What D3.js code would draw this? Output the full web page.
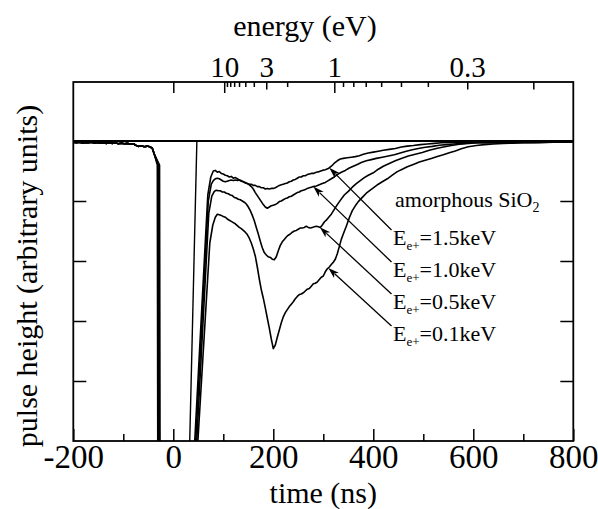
<!DOCTYPE html>
<html><head><meta charset="utf-8">
<script src="https://cdn.jsdelivr.net/npm/d3@7"></script>
<style>
html,body{margin:0;padding:0;background:#fff;}
svg{display:block;}
text{font-family:"Liberation Serif","Times New Roman",serif;fill:#000;}
</style>
</head><body>
<svg id="chart" width="598" height="509"></svg>
<script>
// ---------------- data ----------------
const timeTicks = [-200, 0, 200, 400, 600, 800];
const timeMinorTicks = [-100, 100, 300, 500, 700];
const pulseTicks = [-1, -2, -3, -4];
const energyLabels = [10, 3, 1, 0.3];
const energyMajor = [Infinity, 10, 1];
const energyMid = [3, 0.3, 0.2];
const energyMinor = [9, 8, 7, 6, 5, 4, 2, 0.9, 0.8, 0.7, 0.6, 0.5, 0.4];
const tofConst = 322; // time (ns) = tofConst / sqrt(E in eV)

const beamEnergies = ["1.5", "1.0", "0.5", "0.1"];

// common pre-trigger baseline [time ns, pulse height]
const preTrigger = [[-200,-0.02],[-194,-0.03],[-188,-0.02],[-182,-0.035],[-176,-0.025],[-170,-0.03],[-164,-0.02],[-158,-0.035],[-152,-0.025],[-146,-0.035],[-140,-0.03],[-134,-0.04],[-128,-0.03],[-122,-0.04],[-116,-0.03],[-110,-0.045],[-104,-0.035],[-98,-0.045],[-92,-0.04],[-86,-0.05],[-80,-0.045],[-75,-0.07],[-70,-0.09],[-64,-0.08],[-58,-0.095],[-52,-0.085],[-46,-0.1],[-42,-0.12],[-38,-0.22]];

const curve15 = [[-32,-0.4],[-31,-5.4],[41,-5.3],[69,-0.9],[75,-0.6],[80,-0.5],[84,-0.49],[88,-0.52],[92,-0.51],[96,-0.54],[100,-0.55],[104,-0.57],[108,-0.58],[112,-0.6],[116,-0.59],[120,-0.62],[124,-0.61],[128,-0.63],[132,-0.65],[136,-0.66],[140,-0.68],[144,-0.69],[148,-0.71],[152,-0.72],[156,-0.72],[160,-0.74],[164,-0.74],[168,-0.76],[172,-0.76],[176,-0.78],[180,-0.78],[184,-0.8],[188,-0.79],[192,-0.8],[196,-0.79],[200,-0.79],[204,-0.78],[208,-0.76],[212,-0.74],[216,-0.73],[220,-0.72],[224,-0.71],[228,-0.7],[232,-0.68],[236,-0.67],[240,-0.65],[244,-0.64],[248,-0.62],[252,-0.6],[256,-0.6],[260,-0.58],[264,-0.58],[268,-0.56],[272,-0.55],[276,-0.54],[280,-0.54],[286,-0.52],[292,-0.51],[298,-0.49],[304,-0.48],[310,-0.46],[316,-0.42],[322,-0.37],[328,-0.33],[334,-0.3],[340,-0.29],[348,-0.28],[356,-0.27],[364,-0.26],[372,-0.245],[380,-0.22],[390,-0.2],[400,-0.185],[410,-0.17],[420,-0.155],[432,-0.14],[444,-0.125],[456,-0.1],[468,-0.085],[480,-0.075],[494,-0.06],[508,-0.05],[522,-0.04],[536,-0.03],[550,-0.025],[570,-0.02],[590,-0.015],[620,-0.02],[650,-0.01],[680,-0.015],[710,-0.01],[740,-0.015],[770,-0.01],[800,-0.012]];

const curve10 = [[-30.5,-0.4],[-29.5,-5.4],[43,-5.3],[70,-1.0],[76,-0.72],[80,-0.66],[84,-0.63],[88,-0.62],[92,-0.63],[96,-0.65],[100,-0.67],[104,-0.68],[108,-0.67],[112,-0.66],[116,-0.65],[120,-0.66],[124,-0.65],[128,-0.66],[132,-0.65],[136,-0.67],[140,-0.68],[144,-0.7],[148,-0.71],[152,-0.73],[156,-0.76],[160,-0.8],[164,-0.86],[168,-0.91],[172,-0.96],[176,-1.01],[180,-1.06],[184,-1.1],[188,-1.12],[192,-1.1],[196,-1.08],[200,-1.07],[204,-1.06],[208,-1.04],[212,-1.01],[216,-1.0],[220,-0.98],[224,-0.96],[228,-0.95],[232,-0.93],[236,-0.92],[240,-0.9],[244,-0.88],[248,-0.86],[252,-0.85],[256,-0.83],[260,-0.82],[264,-0.81],[268,-0.79],[272,-0.78],[276,-0.77],[280,-0.76],[286,-0.75],[292,-0.73],[298,-0.71],[304,-0.69],[310,-0.66],[316,-0.63],[322,-0.6],[328,-0.56],[336,-0.52],[344,-0.49],[352,-0.45],[360,-0.42],[368,-0.39],[376,-0.36],[386,-0.33],[396,-0.31],[406,-0.29],[418,-0.27],[430,-0.25],[442,-0.23],[454,-0.2],[466,-0.17],[478,-0.145],[490,-0.125],[504,-0.105],[518,-0.09],[532,-0.07],[546,-0.06],[560,-0.05],[580,-0.04],[600,-0.03],[630,-0.025],[660,-0.03],[690,-0.02],[720,-0.025],[750,-0.018],[780,-0.022],[800,-0.018]];

const curve05 = [[-29,-0.4],[-28,-5.4],[45,-5.3],[71,-1.2],[77,-0.92],[82,-0.84],[86,-0.82],[90,-0.83],[94,-0.83],[98,-0.85],[102,-0.85],[106,-0.87],[110,-0.88],[114,-0.9],[118,-0.91],[122,-0.94],[126,-0.95],[130,-0.97],[134,-0.98],[138,-1.0],[142,-1.02],[146,-1.05],[150,-1.1],[154,-1.16],[158,-1.24],[162,-1.33],[166,-1.44],[170,-1.55],[174,-1.67],[178,-1.78],[182,-1.86],[186,-1.9],[190,-1.93],[194,-1.94],[198,-1.97],[202,-1.98],[206,-1.93],[210,-1.83],[214,-1.74],[218,-1.68],[222,-1.64],[226,-1.6],[230,-1.57],[234,-1.55],[238,-1.52],[242,-1.5],[246,-1.49],[250,-1.47],[254,-1.45],[258,-1.45],[262,-1.44],[266,-1.42],[270,-1.44],[274,-1.45],[278,-1.44],[282,-1.43],[286,-1.42],[290,-1.43],[294,-1.44],[298,-1.4],[302,-1.35],[306,-1.32],[310,-1.28],[316,-1.22],[322,-1.14],[328,-1.06],[334,-0.99],[342,-0.9],[350,-0.84],[358,-0.77],[366,-0.71],[374,-0.66],[382,-0.61],[390,-0.57],[400,-0.53],[410,-0.47],[420,-0.42],[432,-0.375],[444,-0.33],[456,-0.29],[470,-0.25],[484,-0.22],[498,-0.19],[512,-0.155],[526,-0.125],[540,-0.1],[556,-0.075],[572,-0.055],[590,-0.04],[610,-0.03],[640,-0.03],[670,-0.02],[700,-0.025],[730,-0.02],[760,-0.022],[800,-0.015]];

const curve01 = [[-27.5,-0.4],[-26.5,-5.4],[47,-5.3],[73,-1.7],[79,-1.4],[84,-1.27],[88,-1.22],[92,-1.23],[96,-1.24],[100,-1.26],[104,-1.27],[108,-1.3],[112,-1.32],[116,-1.34],[120,-1.36],[124,-1.38],[128,-1.41],[132,-1.44],[136,-1.46],[140,-1.49],[144,-1.52],[148,-1.56],[152,-1.62],[156,-1.7],[160,-1.8],[164,-1.92],[168,-2.1],[172,-2.3],[176,-2.48],[180,-2.62],[184,-2.78],[188,-2.95],[192,-3.12],[196,-3.3],[200,-3.46],[204,-3.4],[208,-3.27],[212,-3.15],[216,-3.03],[220,-2.93],[224,-2.86],[228,-2.81],[232,-2.76],[236,-2.72],[240,-2.68],[244,-2.63],[248,-2.59],[252,-2.56],[256,-2.55],[260,-2.53],[264,-2.5],[268,-2.47],[272,-2.46],[276,-2.42],[280,-2.38],[284,-2.37],[288,-2.35],[292,-2.31],[296,-2.27],[300,-2.25],[304,-2.18],[308,-2.13],[312,-2.1],[316,-2.06],[320,-2.02],[324,-1.97],[328,-1.88],[332,-1.76],[336,-1.64],[340,-1.55],[346,-1.42],[352,-1.28],[358,-1.16],[364,-1.08],[370,-1.01],[378,-0.94],[386,-0.87],[394,-0.82],[402,-0.77],[410,-0.72],[418,-0.68],[428,-0.63],[438,-0.57],[448,-0.51],[458,-0.47],[468,-0.43],[480,-0.39],[492,-0.35],[504,-0.32],[516,-0.29],[528,-0.26],[540,-0.23],[552,-0.195],[564,-0.165],[576,-0.13],[590,-0.095],[606,-0.075],[622,-0.06],[640,-0.05],[660,-0.04],[680,-0.035],[700,-0.03],[730,-0.03],[760,-0.022],[800,-0.02]];

// thin prompt trace crossing the plot between the spikes
const promptTrace = [[32,-5.3],[48,0.3]];

// arrow annotation: time on each curve where the arrow points
const arrowTipTimes = [312, 280, 293, 310];

// ---------------- layout ----------------
const svg = d3.select("#chart");
const L = 73.3, R = 573.3, T = 141, B = 441, PT = 82;
const x = d3.scaleLinear().domain([-200, 800]).range([L, R]);
const y = d3.scaleLinear().domain([0, -5]).range([T, B]);
const eTime = e => tofConst / Math.sqrt(e);

svg.append("defs").append("clipPath").attr("id","clip")
  .append("rect").attr("x",L).attr("y",T).attr("width",R-L).attr("height",B-T);

const curves = [curve15, curve10, curve05, curve01];
const line = d3.line().x(d => x(d[0])).y(d => y(d[1]));
const g = svg.append("g").attr("clip-path","url(#clip)");
curves.forEach(c => {
  g.append("path").datum(preTrigger.concat(c)).attr("d", line)
    .attr("fill","none").attr("stroke","#000").attr("stroke-width",1.6)
    .attr("stroke-linejoin","round");
});
g.append("path").datum(promptTrace).attr("d", line)
  .attr("fill","none").attr("stroke","#000").attr("stroke-width",1.4);

// frames
svg.append("rect").attr("x",L).attr("y",PT).attr("width",R-L).attr("height",B-PT)
  .attr("fill","none").attr("stroke","#000").attr("stroke-width",1.8);
svg.append("line").attr("x1",L).attr("x2",R).attr("y1",T).attr("y2",T)
  .attr("stroke","#000").attr("stroke-width",1.8);

function styleAxis(sel){
  sel.select(".domain").remove();
  sel.selectAll(".tick line").attr("stroke","#000").attr("stroke-width",1.5);
  sel.selectAll("text").attr("fill","#000").attr("font-family","Liberation Serif, Times New Roman, serif");
}

// bottom axis
const bx = svg.append("g").attr("transform",`translate(0,${B})`)
  .call(d3.axisBottom(x).tickValues(timeTicks).tickSizeInner(-12).tickSizeOuter(0).tickPadding(4)
    .tickFormat(d => String(d)));
styleAxis(bx);
bx.selectAll("text").attr("font-size",33);
const bxm = svg.append("g").attr("transform",`translate(0,${B})`)
  .call(d3.axisBottom(x).tickValues(timeMinorTicks).tickSizeInner(-7).tickSizeOuter(0).tickFormat(""));
styleAxis(bxm);

// left and right axes
const ly = svg.append("g").attr("transform",`translate(${L},0)`)
  .call(d3.axisLeft(y).tickValues(pulseTicks).tickSizeInner(-13).tickSizeOuter(0).tickFormat(""));
styleAxis(ly);
const ry = svg.append("g").attr("transform",`translate(${R},0)`)
  .call(d3.axisRight(y).tickValues(pulseTicks).tickSizeInner(-13).tickSizeOuter(0).tickFormat(""));
styleAxis(ry);

// top energy axis
function topTicks(vals, len){
  const a = svg.append("g").attr("transform",`translate(0,${PT})`)
    .call(d3.axisTop(x).tickValues(vals.map(eTime)).tickSizeInner(-len).tickSizeOuter(0).tickFormat(""));
  styleAxis(a);
}
topTicks(energyMajor, 11);
topTicks(energyMid, 7.5);
topTicks(energyMinor, 5);
const tl = svg.append("g").attr("transform",`translate(0,${PT})`)
  .call(d3.axisTop(x).tickValues(energyLabels.map(eTime)).tickSize(0).tickPadding(5)
    .tickFormat((d,i) => String(energyLabels[i])));
styleAxis(tl);
tl.selectAll("text").attr("font-size",29);

// titles
svg.append("text").attr("x",305).attr("y",36).attr("text-anchor","middle")
  .attr("font-size",30).text("energy (eV)");
svg.append("text").attr("x",(L+R)/2).attr("y",503).attr("text-anchor","middle")
  .attr("font-size",30).text("time (ns)");
svg.append("text").attr("transform","translate(37,276) rotate(-90)").attr("text-anchor","middle")
  .attr("font-size",30).text("pulse height (arbitrary units)");

// annotations
const sio = svg.append("text").attr("x",395).attr("y",207).attr("font-size",22);
sio.append("tspan").text("amorphous SiO");
sio.append("tspan").attr("font-size",14).attr("dy",5).text("2");

const labelX = 393;
const labelBase = [245, 277, 309, 341];
function interp(c, t){
  const i = d3.bisector(d => d[0]).left(c, t);
  const a = c[i-1], b = c[i];
  return a[1] + (b[1]-a[1])*(t-a[0])/(b[0]-a[0]);
}
curves.forEach((c, i) => {
  const tx = svg.append("text").attr("x",labelX).attr("y",labelBase[i]).attr("font-size",22);
  tx.append("tspan").text("E");
  tx.append("tspan").attr("font-size",13).attr("dy",5).text("e+");
  tx.append("tspan").attr("dy",-5).text("=" + beamEnergies[i] + "keV");
  const tipT = arrowTipTimes[i];
  const px = x(tipT), py = y(interp(c, tipT));
  const sx = labelX - 1.5, sy = labelBase[i] - 15;
  const dx = px - sx, dy = py - sy, len = Math.hypot(dx, dy);
  const ux = dx/len, uy = dy/len;
  const hl = 11, hw = 3.5;
  const bx0 = px - ux*hl, by0 = py - uy*hl;
  svg.append("line").attr("x1",sx).attr("y1",sy).attr("x2",bx0+ux*2).attr("y2",by0+uy*2)
    .attr("stroke","#000").attr("stroke-width",1.3);
  svg.append("path")
    .attr("d",`M${px},${py} L${bx0 - uy*hw},${by0 + ux*hw} L${px-ux*hl*0.75},${py-uy*hl*0.75} L${bx0 + uy*hw},${by0 - ux*hw} Z`)
    .attr("fill","#000");
});
</script>
</body></html>
